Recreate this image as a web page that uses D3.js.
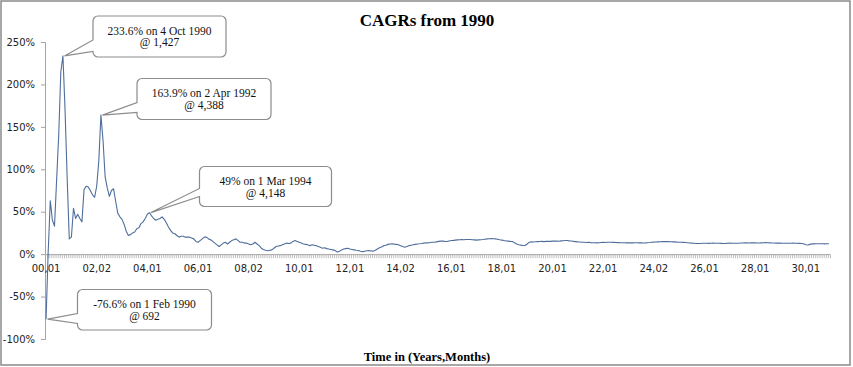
<!DOCTYPE html>
<html><head><meta charset="utf-8">
<script src="https://cdn.jsdelivr.net/npm/d3@7"></script>
<style>
html,body{margin:0;padding:0;background:#fff;}
svg{display:block;}
</style></head>
<body>
<svg id="chart" width="853" height="367"></svg>
<script>
// ---- DATA ----
const title = "CAGRs from 1990";
const xAxisTitle = "Time in (Years,Months)";
// Monthly CAGR (%) since Feb 1990
const cagr = [
-76.6,2,63,40,33,87,140,215,233.6,170,
90,18,20,54,42,47,42,38,76,80,
79,75,70,67,80,110,163.9,134,91,78,
68,75,77,62,48,44,41,35,27,22,
23,25,26,30,31,36,38,42,47,49,
45,42,40,41,42,44,41,37,32,28,
25,24,22,20,21,21,20,20,20,19,
18,15,14,16,18,20,20,18,17,15,
13,11,9,11,13,14,12,14,16,17,
18,16,14,14,13,13,12,11,12,14,
12,10,7,5.5,4.5,4,4.5,5,7,9,
9.5,10,11,12,13,12.5,13,15,16,15,
14,13,12,11.5,11,10,11,10.5,10,9,
8,7,7.5,6.5,6,5.5,5,4.3,2.4,3.5,
5,6,6.5,7,6,5.5,5,4.5,4.3,3.5,
3,3.5,4,4.3,3.8,3.5,4.5,6,7.5,8.5,
10,10.5,11.5,12,12.2,11.8,11.5,11,10,9,
8.2,9,10,10.5,11,11.5,12,12.2,12.5,13,
13.5,13.2,13.8,14,14.1,14.5,15,15.3,15.5,15,
14.9,15.5,16,16.2,16.5,16.8,17,17.2,17,17.3,
17.2,17.2,17,16.8,16.5,16.8,17,17.2,17.6,18,
18.2,18.4,18.2,18,17.6,17,16.5,16,15.6,15.3,
15,14.9,13.5,12,11,10.6,10.2,10.2,12,14.1,
14.5,14.3,14.6,14.8,14.9,15,14.8,15,15.2,15,
15.3,15.3,15.5,15.2,15.6,15.8,16,16,15.6,15.4,
15,14.8,14.5,14.3,14.1,14,13.8,14,13.6,13.4,
13.5,13.3,13.5,13.8,14,13.8,14,14.1,14.1,13.9,
13.7,13.6,13.4,13.5,13.4,13.3,13.3,13.4,13.3,13.5,
13.4,13.3,13.4,13.2,13.3,13.5,13.7,14,14.2,14.3,
14.5,14.6,14.8,14.9,14.8,14.7,14.6,14.5,14.4,14.2,
14.1,14.1,13.9,13.7,13.5,13.2,13,12.8,12.6,12.5,
12.6,12.8,12.9,12.8,12.7,12.9,13,12.9,12.9,12.8,
12.7,12.6,12.7,12.9,13,12.9,12.9,12.8,12.9,13.1,
13.2,13.3,13.3,13.2,13.3,13.3,13.4,13.2,13.1,13.3,
13.5,13.6,13.4,13.3,13.2,13.1,13,13.1,13,12.9,
12.9,12.9,12.8,12.9,13,12.9,12.8,12.7,12.6,12.2,
11,10.8,11.5,12.2,12.1,12.2,12.3,12.2,12.2,12.1,
12.2,12.2
];
const xTickIndex = [0,24,48,72,96,120,144,168,192,216,240,264,288,312,336,360];
const xTickLabels = ["00,01","02,02","04,01","06,01","08,02","10,01","12,01","14,02","16,01","18,01","20,01","22,01","24,02","26,01","28,01","30,01"];
const yTicks = [-100,-50,0,50,100,150,200,250];
const calloutIndex = [8,26,49,0];
const calloutText = [
  ["233.6% on 4 Oct 1990","@ 1,427"],
  ["163.9% on 2 Apr 1992","@ 4,388"],
  ["49% on 1 Mar 1994","@ 4,148"],
  ["-76.6% on 1 Feb 1990","@ 692"]
];

// ---- LAYOUT ----
const calloutBoxes = [
  {x:93,  y:16,    w:133, h:41, y1:40,    y2:51.5},
  {x:137, y:78.5,  w:134, h:41, y1:102.5, y2:112.5},
  {x:199.5,y:166.5,w:132, h:40, y1:188.5, y2:196.5},
  {x:77.5,y:289.5, w:134, h:40.5,y1:313.5,y2:323.5}
];
const plot = {left:45, right:830, top:42, bottom:339};
const lineColor = "#4f6e9c";
const axisColor = "#a3a3a3";

const svg = d3.select("#chart");
svg.append("rect").attr("x",1).attr("y",1).attr("width",849).attr("height",364)
  .attr("fill","#fff").attr("stroke","#8a8a8a").attr("stroke-width",1.5);

const n = cagr.length;
const x = d3.scaleBand().domain(d3.range(n)).range([plot.left, plot.right]).paddingInner(0).paddingOuter(0);
const xb = d3.scaleLinear().domain([0,n]).range([plot.left, plot.right]);
const y = d3.scaleLinear().domain([-100,250]).range([plot.bottom, plot.top]);
const cx = i => x(i) + x.bandwidth()/2;

// title
svg.append("text").attr("x",427).attr("y",26).attr("text-anchor","middle")
  .attr("font-family","'Liberation Serif', serif").attr("font-weight","bold").attr("font-size",17)
  .attr("fill","#000").text(title);
svg.append("text").attr("x",427).attr("y",361).attr("text-anchor","middle")
  .attr("font-family","'Liberation Serif', serif").attr("font-weight","bold").attr("font-size",12.5)
  .attr("fill","#000").text(xAxisTitle);

// y axis
const yAxis = svg.append("g").attr("transform",`translate(${plot.left},0)`)
  .call(d3.axisLeft(y).tickValues(yTicks).tickSize(4).tickPadding(6).tickFormat(d=>d+"%"));
yAxis.selectAll("path,line").attr("stroke",axisColor);
yAxis.selectAll("text").attr("font-family","'DejaVu Sans', sans-serif").attr("font-size",10).attr("fill","#222");

// x axis: category boundary ticks
const y0 = y(0);
const xAxisTicks = svg.append("g").attr("transform",`translate(0,${y0})`)
  .call(d3.axisBottom(xb).tickValues(d3.range(n+1)).tickSize(4).tickFormat(""));
xAxisTicks.select(".domain").attr("stroke",axisColor).attr("d",`M${plot.left},0.5H${plot.right}`);
xAxisTicks.selectAll(".tick line").attr("stroke","#b0b0b0").attr("stroke-width",0.8);
// labels
const xAxisLab = svg.append("g").attr("transform",`translate(0,${y0})`)
  .call(d3.axisBottom(x).tickValues(xTickIndex).tickSize(0).tickPadding(11).tickFormat((d,i)=>xTickLabels[i]));
xAxisLab.select(".domain").remove();
xAxisLab.selectAll("text").attr("font-family","'DejaVu Sans', sans-serif").attr("font-size",10).attr("fill","#222");

// line
const line = d3.line().x((d,i)=>cx(i)).y(d=>y(d)).curve(d3.curveLinear);
svg.append("path").datum(cagr).attr("d",line).attr("fill","none")
  .attr("stroke",lineColor).attr("stroke-width",1.1).attr("stroke-linejoin","round");

// callouts
calloutIndex.forEach((idx,k)=>{
  const b = calloutBoxes[k], r = 5;
  const tx = cx(idx) + 1.5, ty = y(cagr[idx]);
  const p = `M${b.x+r},${b.y} H${b.x+b.w-r} A${r},${r} 0 0 1 ${b.x+b.w},${b.y+r} V${b.y+b.h-r} A${r},${r} 0 0 1 ${b.x+b.w-r},${b.y+b.h} H${b.x+r} A${r},${r} 0 0 1 ${b.x},${b.y+b.h-r} V${b.y2} L${tx},${ty} L${b.x},${b.y1} V${b.y+r} A${r},${r} 0 0 1 ${b.x+r},${b.y} Z`;
  svg.append("path").attr("d",p).attr("fill","#fff").attr("stroke","#8c8c8c").attr("stroke-width",1.2);
  const t = svg.append("text").attr("text-anchor","middle")
    .attr("font-family","'Liberation Serif', serif").attr("font-size",11.5).attr("fill","#111");
  calloutText[k].forEach((s,j)=>{
    t.append("tspan").attr("x",b.x+b.w/2).attr("y",b.y+18.5+j*11.7).text(s);
  });
});
</script>
</body></html>
